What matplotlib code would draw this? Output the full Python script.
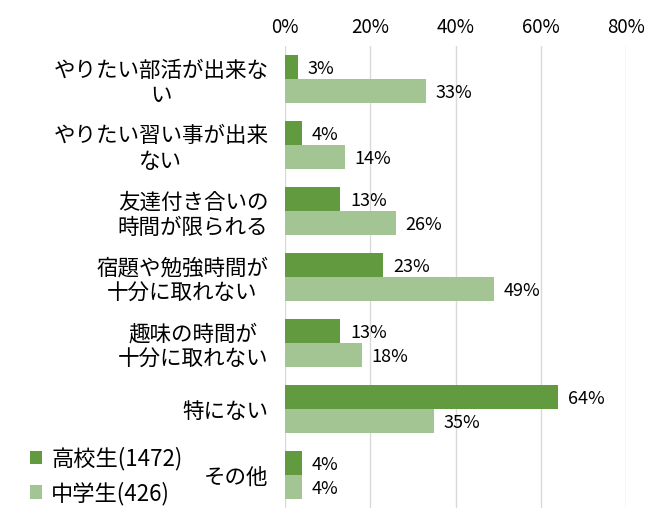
import matplotlib.pyplot as plt
import numpy as np

plt.rcParams['font.family'] = ['Noto Sans CJK JP', 'DejaVu Sans']

# data
categories = ["やりたい部活が出来な\nい", "やりたい習い事が出来\nない",
              "友達付き合いの\n時間が限られる", "宿題や勉強時間が\n十分に取れない",
              "趣味の時間が\n十分に取れない", "特にない", "その他"]
high_school = [3, 4, 13, 23, 13, 64, 4]
junior_high = [33, 14, 26, 49, 18, 35, 4]
series_names = ["高校生(1472)", "中学生(426)"]
xticks = [0, 20, 40, 60, 80]

dark = "#629a3f"
light = "#a3c594"

fig = plt.figure(figsize=(6.63, 5.16), dpi=100)
ax = fig.add_axes([285 / 663, 1 - 508 / 516, (626 - 285) / 663, (508 - 46) / 516])

y = np.arange(len(categories))
h = 0.36
b1 = ax.barh(y - h / 2, high_school, height=h, color=dark, label=series_names[0], zorder=3)
b2 = ax.barh(y + h / 2, junior_high, height=h, color=light, label=series_names[1], zorder=3)

for bars, vals in ((b1, high_school), (b2, junior_high)):
    for bar, v in zip(bars, vals):
        ax.text(v + 2.3, bar.get_y() + bar.get_height() / 2 + 0.03, "%d%%" % v,
                va="center", ha="left", fontsize=13)

ax.set_xlim(0, 80)
ax.set_ylim(len(categories) - 0.5, -0.5)
ax.set_xticks(xticks)
ax.set_xticklabels(["%d%%" % t for t in xticks], fontsize=13.5)
ax.xaxis.tick_top()
ax.tick_params(axis="x", length=0, pad=6)
ax.set_yticks(y)
ax.set_yticklabels(categories, fontsize=15.5, multialignment="center", linespacing=1.2)
ax.tick_params(axis="y", length=0, pad=12)
ax.grid(axis="x", color="#d9d9d9", lw=1, zorder=0)
for s in ax.spines.values():
    s.set_visible(False)

fig.legend(handles=[b1, b2], labels=series_names, loc="lower left",
           bbox_to_anchor=(10 / 663, -9 / 516), frameon=False, fontsize=16,
           handlelength=0.55, handleheight=0.55, handletextpad=0.4, labelspacing=0.5)

fig.savefig("out.png", dpi=100)
